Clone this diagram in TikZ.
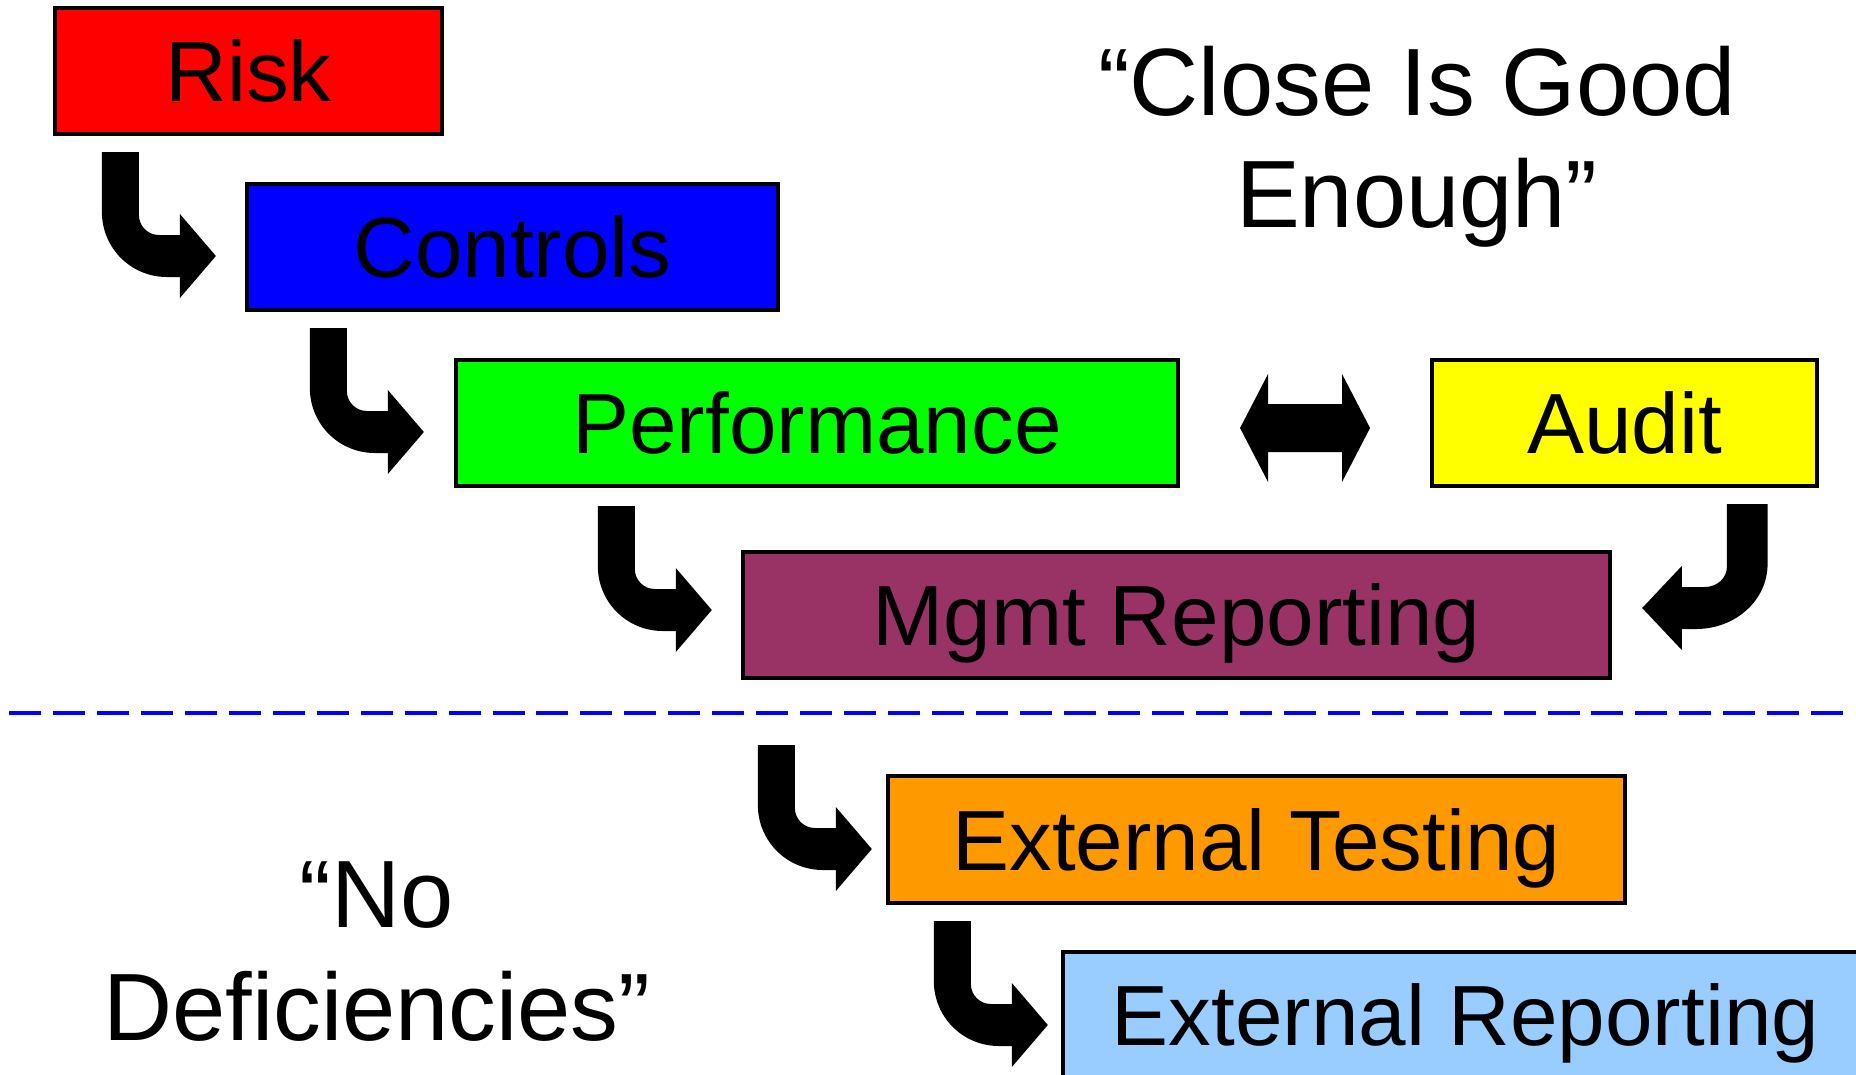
\documentclass[tikz,border=0pt]{standalone}
\usepackage{fontspec}
\setmainfont{Liberation Sans}
\usetikzlibrary{calc}

\definecolor{riskred}{HTML}{FF0000}
\definecolor{ctrlblue}{HTML}{0000FF}
\definecolor{perfgreen}{HTML}{00FF00}
\definecolor{audityellow}{HTML}{FFFF00}
\definecolor{mgmtplum}{HTML}{993366}
\definecolor{exttorange}{HTML}{FF9900}
\definecolor{extrblue}{HTML}{99CCFF}
\definecolor{sepblue}{HTML}{0000FF}

\newcommand\boxfont{\fontsize{24.3}{29}\selectfont}
\newcommand\quotefont{\fontsize{27.2}{32.1}\selectfont}

\tikzset{
  box/.style={draw=black, line width=1.1pt, inner sep=0pt,
    minimum height=1.26cm, font=\boxfont, text height=17.4pt, text depth=0pt},
  quotetext/.style={align=center, inner sep=0pt, font=\quotefont},
  sepline/.style={draw=sepblue, line width=1.1pt, dash pattern=on 9.1pt off 3.4pt},
  % block arrow going down, bending right; origin at its tip
  bent/.pic={
    \fill[black] (-114,-104) -- (-77,-104) -- (-77,-41)
      .. controls (-77,-30) and (-68,-21) .. (-57,-21)
      -- (-36,-21) -- (-36,-42) -- (0,0) -- (-36,42) -- (-36,21)
      -- (-49,21)
      .. controls (-85,21) and (-114,-8) .. (-114,-44) -- cycle;
  },
  % two-headed block arrow; origin at its centre
  dbl/.pic={
    \fill[black] (-65,0) -- (-37,-54) -- (-37,-24) -- (37,-24) -- (37,-54)
      -- (65,0) -- (37,54) -- (37,24) -- (-37,24) -- (-37,54) -- cycle;
  },
}

\begin{document}
\begin{tikzpicture}[x=0.01cm, y=-0.01cm]
  \useasboundingbox (0,0) rectangle (1856,1075);
  \fill[white] (0,0) rectangle (1856,1075);
  \clip (0,0) rectangle (1856,1075);

  % process boxes
  \node[box, fill=riskred, minimum width=3.87cm] (risk) at (248.5,71) {Risk};
  \node[box, fill=ctrlblue, minimum width=5.31cm] (controls) at (512.5,247) {Controls};
  \node[box, fill=perfgreen, minimum width=7.22cm] (perf) at (817,423) {Performance};
  \node[box, fill=audityellow, minimum width=3.85cm] (audit) at (1624.5,423) {Audit};
  \node[box, fill=mgmtplum, minimum width=8.67cm] (mgmt) at (1176.5,615) {Mgmt Reporting};
  \node[box, fill=exttorange, minimum width=7.37cm, minimum height=1.27cm] (extt) at (1256.5,839.5) {External Testing};
  \node[box, fill=extrblue, minimum width=8.05cm] (extr) at (1465.5,1015) {External Reporting};

  % bent arrows into each following box
  \pic at ($(controls.west)+(-29,9)$) {bent};
  \pic at ($(perf.west)+(-30,9)$) {bent};
  \pic at ($(mgmt.west)+(-29,-5)$) {bent};
  \pic at ($(extt.west)+(-14,9.5)$) {bent};
  \pic at ($(extr.west)+(-13,10)$) {bent};
  \pic[xscale=-1.1] at ($(mgmt.east)+(30,-7)$) {bent};

  % two-way arrow between Performance and Audit
  \pic at ($($(perf.east)!0.5!(audit.west)$)+(0,5)$) {dbl};

  % separator
  \coordinate (sepL) at (9,713);
  \coordinate (sepR) at (1846,713);
  \draw[sepline] (sepL) -- (sepR);

  % quotations
  \node[quotetext, anchor=north] (close) at (1417,45) {“Close Is Good\\Enough”};
  \node[quotetext, anchor=north] (nodef) at (377,861) {“No\\Deficiencies”};
\end{tikzpicture}
\end{document}
